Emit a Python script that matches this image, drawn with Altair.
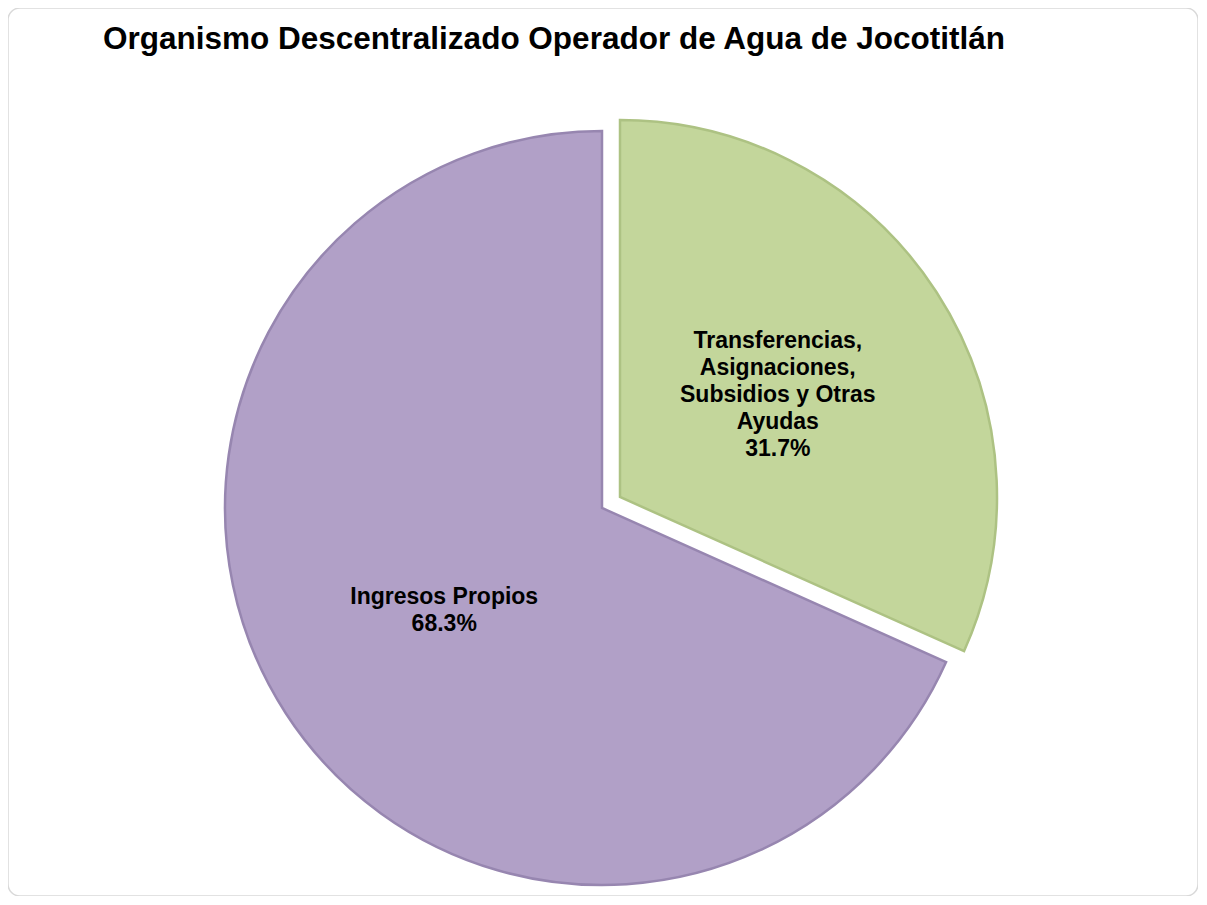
import altair as alt
import pandas as pd

# ---- data ----
categories = ["Transferencias, Asignaciones, Subsidios y Otras Ayudas", "Ingresos Propios"]
label_lines = ["Transferencias,\nAsignaciones,\nSubsidios y Otras\nAyudas", "Ingresos Propios"]
values = [31.7, 68.3]
order = [0, 1]
title_text = "Organismo Descentralizado Operador de Agua de Jocotitlán"

df = pd.DataFrame({"category": categories, "lines": label_lines, "value": values, "order": order})

# ---- layout / style constants ----
W, H = 1190, 888
CX, CY = 594, 500
R = 377
EXPLODE_DX, EXPLODE_DY = 18, -11
LABEL_R = 188
LINE_H = 27
FONT = "Liberation Sans"
PURPLE = "#B1A0C7"
GREEN = "#C3D69B"

base = (
    alt.Chart(df)
    .transform_joinaggregate(total="sum(value)")
    .transform_window(cum="sum(value)", sort=[alt.SortField("order")], frame=[None, 0])
    .transform_calculate(
        t0="(datum.cum - datum.value) / datum.total * 2 * PI",
        t1="datum.cum / datum.total * 2 * PI",
        mid="(datum.cum - datum.value / 2) / datum.total * 2 * PI",
        label="datum.lines + '\\n' + format(datum.value / datum.total, '.1%')",
    )
)

is_green = "datum.order == 0"
is_purple = "datum.order == 1"

purple_arc = base.transform_filter(is_purple).mark_arc(
    x=CX, y=CY, radius=R, fill=PURPLE, stroke="#9786B0", strokeWidth=2.5
).encode(theta=alt.Theta("t0:Q", scale=None), theta2=alt.Theta2("t1:Q"))

green_arc = base.transform_filter(is_green).mark_arc(
    x=CX + EXPLODE_DX, y=CY + EXPLODE_DY, radius=R, fill=GREEN, stroke="#ADC283", strokeWidth=2.5
).encode(theta=alt.Theta("t0:Q", scale=None), theta2=alt.Theta2("t1:Q"))

text_props = dict(font=FONT, fontSize=23, fontWeight="bold", color="#000000",
                  align="center", baseline="middle", lineBreak="\n", lineHeight=LINE_H)

purple_text = base.transform_filter(is_purple).mark_text(
    x=CX, y=CY, radius=LABEL_R, dy=-LINE_H * 0.5, **text_props
).encode(theta=alt.Theta("mid:Q", scale=None), text="label:N")

green_text = base.transform_filter(is_green).mark_text(
    x=CX + EXPLODE_DX, y=CY + EXPLODE_DY, radius=LABEL_R, dy=-LINE_H * 2, **text_props
).encode(theta=alt.Theta("mid:Q", scale=None), text="label:N")

title = alt.Chart(pd.DataFrame({"t": [title_text]})).mark_text(
    font=FONT, fontSize=31.5, fontWeight="bold", color="#000000", align="left", baseline="alphabetic"
).encode(x=alt.value(95), y=alt.value(41), text="t:N")

chart = (
    alt.layer(purple_arc, green_arc, purple_text, green_text, title)
    .properties(width=W, height=H, autosize=alt.AutoSizeParams(type="none"), padding=0)
    .configure_view(stroke="#D9D9D9", strokeWidth=1.5, cornerRadius=12, fill="#FFFFFF")
)

chart.save("out.html", embed_options={"renderer": "svg", "actions": False})
